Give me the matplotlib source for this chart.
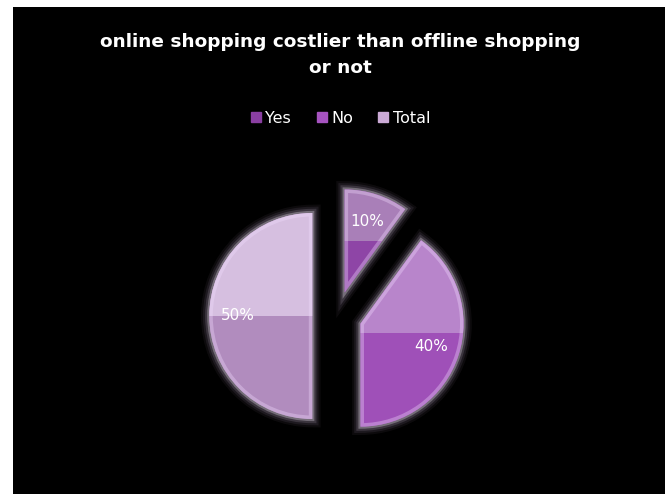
import matplotlib
matplotlib.use("Agg")
import matplotlib.pyplot as plt
import matplotlib.patches as mpatches
import matplotlib.patheffects as pe
from matplotlib.lines import Line2D

# ── Data ──────────────────────────────────────────────────────────────────────
labels = ["Yes", "No", "Total"]
shares = [10, 40, 50]

# lower (base) colour and the lighter upper-half sheen for each slice
base_colors  = ["#8e45a6", "#9f50b8", "#b18cbe"]
sheen_colors = ["#a97fb8", "#b885cb", "#d6bfe0"]
legend_colors = ["#8a3fa2", "#a653c0", "#cbaad6"]

# ── Figure ────────────────────────────────────────────────────────────────────
W, H = 665, 494
fig = plt.figure(figsize=(W / 100, H / 100), dpi=100, facecolor="white")

# black chart area with a thin white margin on the left and top
fig.patches.append(mpatches.Rectangle((13 / W, 0), 1 - 13 / W, 1 - 7 / H,
                                      transform=fig.transFigure,
                                      facecolor="black", edgecolor="none",
                                      zorder=-5))

# pie axes: centre (337, 316) px, radius 103 px
R_PX = 103
half = 1.5 * R_PX
cx, cy = 337, H - 316
ax = fig.add_axes([(cx - half) / W, (cy - half) / H, 2 * half / W, 2 * half / H])
ax.set_zorder(2)
ax.patch.set_visible(False)

glow = [pe.Stroke(linewidth=12, foreground="#f0d0ff", alpha=0.05),
        pe.Stroke(linewidth=9, foreground="#f0d0ff", alpha=0.08),
        pe.Stroke(linewidth=6, foreground="#f6e0ff", alpha=0.14),
        pe.Stroke(linewidth=3, foreground="#fbefff", alpha=0.30),
        pe.Normal()]

wedges, texts, autotexts = ax.pie(
    shares, colors=base_colors, startangle=90, counterclock=False,
    explode=[0.24] * len(shares), autopct="%1.0f%%", pctdistance=0.72,
    radius=1.0, wedgeprops=dict(linewidth=0, edgecolor="none"),
    textprops=dict(color="white", fontsize=11))

# pie() resets the limits, so fix the scale afterwards
ax.set_xlim(-1.5, 1.5)
ax.set_ylim(-1.5, 1.5)
ax.set_aspect("equal")
ax.axis("off")

for w, sheen in zip(wedges, sheen_colors):
    w.set_path_effects(glow)
    ext = w.get_path().get_extents()
    ymid = (ext.y0 + ext.y1) / 2
    # glossy upper half
    top = mpatches.Rectangle((ext.x0 - 0.05, ymid), ext.width + 0.1,
                             ext.y1 - ymid + 0.05, facecolor=sheen,
                             edgecolor="none", zorder=w.get_zorder() + 0.1)
    ax.add_patch(top)
    top.set_clip_path(w)
    # soft bevel along the slice outline
    bevel = mpatches.PathPatch(w.get_path(), fill=False, edgecolor="#f2dcff",
                               linewidth=5, alpha=0.35,
                               zorder=w.get_zorder() + 0.2)
    ax.add_patch(bevel)
    bevel.set_clip_path(w)

for t in autotexts:
    t.set_zorder(10)

# ── Title & legend ───────────────────────────────────────────────────────────
fig.text(340 / W, 1 - 42 / H, "online shopping costlier than offline shopping",
         ha="center", va="center", color="white", fontsize=13.3,
         fontweight="bold")
fig.text(340 / W, 1 - 68 / H, "or not", ha="center", va="center",
         color="white", fontsize=13.3, fontweight="bold")

handles = [Line2D([], [], marker="s", linestyle="none", markersize=7,
                  markerfacecolor=c, markeredgecolor=c) for c in legend_colors]
leg = fig.legend(handles, labels, loc="center", ncol=3,
                 bbox_to_anchor=(340 / W, 1 - 118 / H), frameon=False,
                 handlelength=0.8, handletextpad=0.2, columnspacing=1.5,
                 fontsize=11.5, labelcolor="white")

fig.savefig("out.png", dpi=100, facecolor=fig.get_facecolor())
